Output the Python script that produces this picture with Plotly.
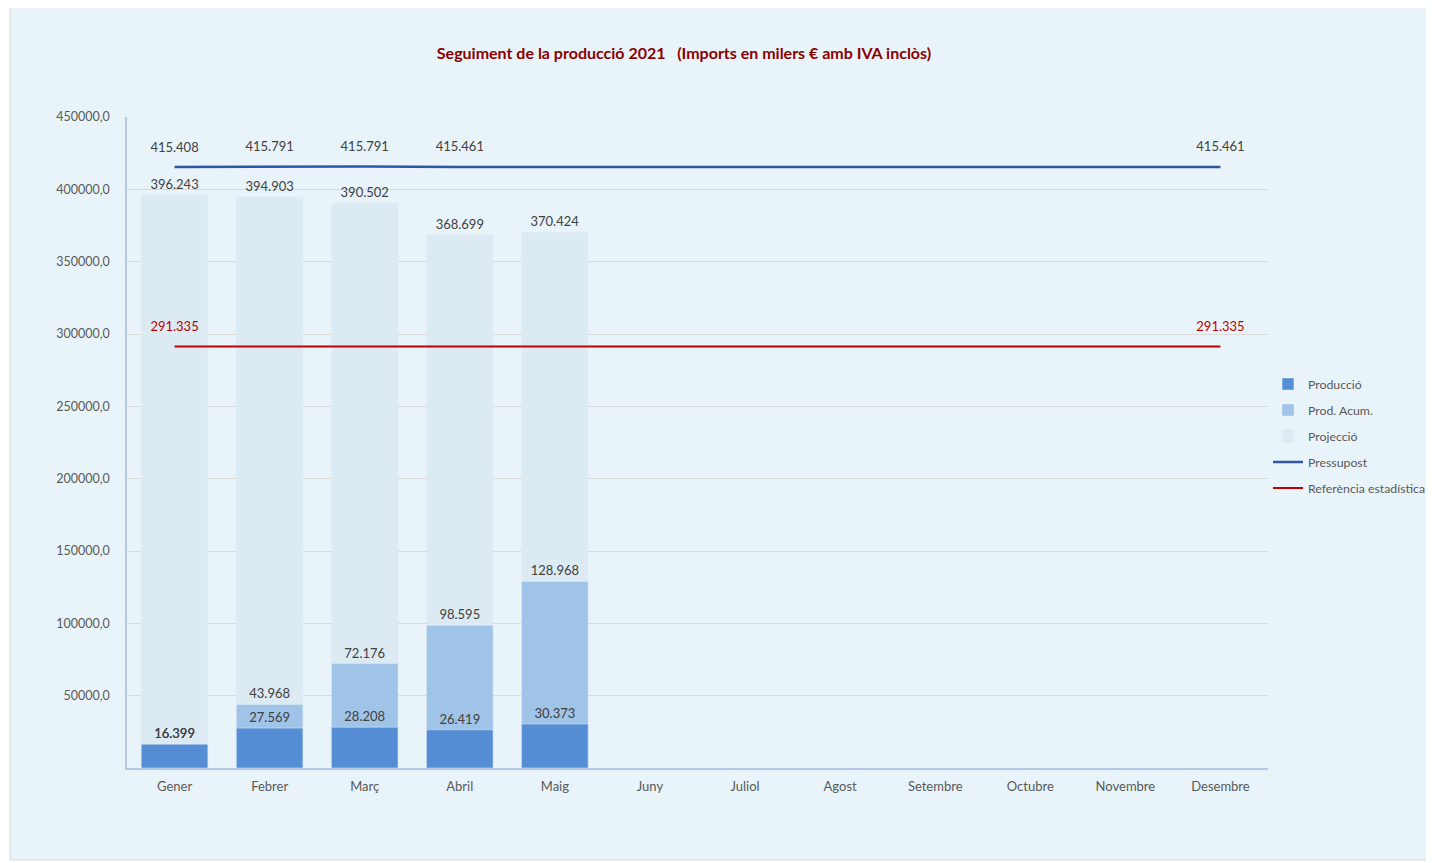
import plotly.graph_objects as go

months = ["Gener", "Febrer", "Març", "Abril", "Maig", "Juny", "Juliol",
          "Agost", "Setembre", "Octubre", "Novembre", "Desembre"]
produccio = [16399, 27569, 28208, 26419, 30373] + [None] * 7
prod_acum = [16399, 43968, 72176, 98595, 128968] + [None] * 7
projeccio = [396243, 394903, 390502, 368699, 370424] + [None] * 7
pressupost = [415408, 415791, 415791, 415461, 415461, 415461, 415461,
              415461, 415461, 415461, 415461, 415461]
pressupost_label_idx = [0, 1, 2, 3, 11]
referencia = [291335] * 12
referencia_label_idx = [0, 11]
y_ticks = [50000, 100000, 150000, 200000, 250000, 300000, 350000, 400000, 450000]


def fmt(v):
    return "" if v is None else f"{v:,.0f}".replace(",", ".")


FONT = "Lato"
LABEL = dict(family=FONT, size=13, color="#404040")
CLEAR = "rgba(0,0,0,0)"

fig = go.Figure()
fig.add_trace(go.Bar(
    x=months, y=projeccio, name="Projecció", marker_color="#dbeaf3",
    text=[fmt(v) for v in projeccio], textposition="outside", textfont=LABEL,
    width=0.7, legendrank=3, legendgroup="c", cliponaxis=False))
fig.add_trace(go.Bar(
    x=months, y=prod_acum, name="Prod. Acum.", marker_color="#a0c3e8",
    text=[fmt(v) for v in prod_acum], textposition="outside", textfont=LABEL,
    width=0.7, legendrank=2, legendgroup="b", cliponaxis=False))
fig.add_trace(go.Bar(
    x=months, y=produccio, name="Producció", marker_color="#558ed5",
    text=[fmt(v) for v in produccio], textposition="outside", textfont=LABEL,
    width=0.7, legendrank=1, legendgroup="a", cliponaxis=False))
fig.add_trace(go.Scatter(
    x=months, y=pressupost, name="Pressupost", mode="lines+markers+text",
    line=dict(color="#2f55a4", width=2.5),
    marker=dict(size=18, color=CLEAR, line=dict(width=0, color=CLEAR)),
    text=[fmt(v) if i in pressupost_label_idx else "" for i, v in enumerate(pressupost)],
    textposition="top center", textfont=LABEL, legendrank=4, legendgroup="d",
    cliponaxis=False))
fig.add_trace(go.Scatter(
    x=months, y=referencia, name="Referència estadística", mode="lines+markers+text",
    line=dict(color="#c00000", width=2),
    marker=dict(size=18, color=CLEAR, line=dict(width=0, color=CLEAR)),
    text=[fmt(v) if i in referencia_label_idx else "" for i, v in enumerate(referencia)],
    textposition="top center", textfont=dict(family=FONT, size=13, color="#c00000"),
    legendrank=5, legendgroup="e", cliponaxis=False))

fig.add_shape(type="rect", xref="paper", yref="paper",
              x0=-0.1025, x1=1.16, y0=-0.1413, y1=1.172,
              fillcolor="#e8f4fa", line=dict(color="#d9d9d9", width=1), layer="below")

fig.update_layout(
    width=1426, height=855,
    margin=dict(l=119, r=166, t=109, b=95, autoexpand=False),
    paper_bgcolor="white", plot_bgcolor="rgba(0,0,0,0)",
    barmode="overlay", separators=",.",
    font=dict(family=FONT, size=13, color="#595959"),
    title=dict(text="Seguiment de la producció 2021\u00a0\u00a0\u00a0(Imports en milers € amb IVA inclòs)",
               x=676 / 1426, xref="container", xanchor="center",
               y=1 - 45 / 855, yref="container", yanchor="middle",
               font=dict(family=FONT, size=16, color="#8b0000", weight="bold")),
    legend=dict(x=1.0, xanchor="left", y=0.51, yanchor="middle",
                font=dict(family=FONT, size=12.3, color="#595959"),
                traceorder="grouped", tracegroupgap=7, bgcolor="rgba(0,0,0,0)"),
    showlegend=True,
)
fig.update_xaxes(range=[-0.5, 11.5], showline=True, linecolor="#b4c7e7", linewidth=1.5,
                 ticks="", ticklabelstandoff=6,
                 tickfont=dict(family=FONT, size=13, color="#595959"), showgrid=False)
fig.update_yaxes(range=[0, 450000], tickvals=y_ticks, tickformat=".1f",
                 showline=True, linecolor="#b4c7e7", linewidth=1.5,
                 gridcolor="#d9d9d9", zeroline=False, ticks="", ticklabelstandoff=13,
                 tickfont=dict(family=FONT, size=12.5, color="#595959"))

fig.write_html("out.html")
